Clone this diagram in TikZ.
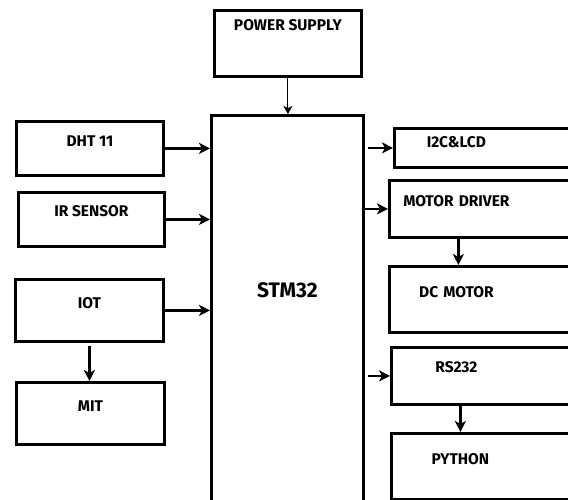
\documentclass[tikz,border=0pt]{standalone}
\usepackage{fontspec}
\setmainfont{Fira Sans}
\usepackage{tikz}
\usetikzlibrary{arrows.meta}

\begin{document}
\begin{tikzpicture}[
            x=1pt, y=-1pt,
            box/.style={rectangle, draw=black, line width=2.8pt, anchor=north west, inner sep=0pt, font=\fontsize{15.5}{18}\selectfont\bfseries},
            rbox/.style={box, text width=212pt, align=left},
            arrow/.style={-{Stealth[length=11pt,width=11pt,inset=3pt]}, line width=2.6pt}
        ]
        \useasboundingbox (0,0) rectangle (568,499);

        % Controller
        \node[box, minimum width=152pt, text height=182pt, text depth=209pt, font=\fontsize{21}{24}\selectfont\bfseries] (stm) at (210,114) {STM32};

        % Supply
        \node[box, minimum width=147pt, text height=20pt, text depth=46pt] (psu) at (213,9) {POWER SUPPLY};

        % Inputs
        \node[box, minimum width=147pt, text height=25pt, text depth=29pt] (dht) at (15,120) {DHT 11};
        \node[box, minimum width=146pt, text height=24pt, text depth=30pt] (ir) at (17,191) {IR SENSOR};
        \node[box, minimum width=148pt, text height=29pt, text depth=33pt] (iot) at (14,278) {IOT};
        \node[box, minimum width=148pt, text height=29pt, text depth=33pt] (mit) at (15,381) {MIT};

        % Outputs
        \node[rbox, text height=19pt, text depth=20pt] (lcd) at (393,127) {\makebox[124pt]{I2C\&LCD}};
        \node[rbox, text height=26pt, text depth=31pt] (drv) at (388,179) {\makebox[134pt]{MOTOR DRIVER}};
        \node[rbox, text height=31pt, text depth=35pt] (dcm) at (388,265) {\makebox[134pt]{DC MOTOR}};
        \node[rbox, text height=25pt, text depth=32pt] (rs) at (390,346) {\makebox[130pt]{RS232}};
        \node[rbox, text height=31pt, text depth=35pt] (py) at (390,432) {\makebox[138pt]{PYTHON}};

        % Arrows
        \draw[-{Stealth[length=8pt,width=9pt,inset=2pt]}, line width=1pt] (psu.south) -- (psu.south |- stm.north);
        \draw[arrow] (dht.east) -- (dht.east -| stm.west);
        \draw[arrow] (ir.east) -- (ir.east -| stm.west);
        \draw[arrow] (iot.east) -- (iot.east -| stm.west);
        \draw[arrow] ([yshift=-3pt]iot.south) -- (iot.south |- mit.north);
        \draw[arrow] ([xshift=3pt]stm.east |- lcd.west) -- (lcd.west);
        \draw[arrow] (stm.east |- drv.west) -- (drv.west);
        \draw[arrow] ([xshift=3pt]stm.east |- rs.west) -- (rs.west);

        % Chains on the right
        \draw[arrow] ([xshift=-37pt]drv.south) -- ([xshift=-37pt]dcm.north);
        \draw[arrow] ([xshift=-37pt]rs.south) -- ([xshift=-37pt]py.north);

\end{tikzpicture}
\end{document}
